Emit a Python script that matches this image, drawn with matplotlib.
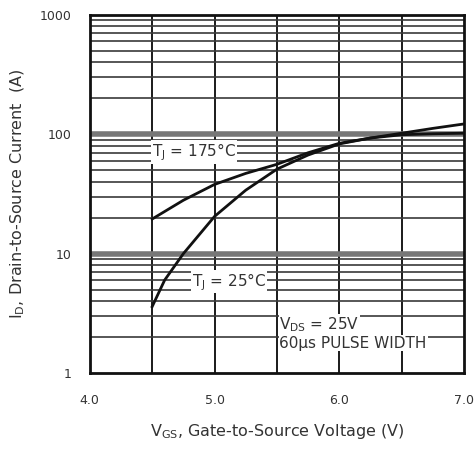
import matplotlib
matplotlib.use("Agg")
import matplotlib.pyplot as plt
from matplotlib.ticker import FixedLocator, NullFormatter

plt.rcParams['font.family'] = ['DejaVu Sans']
plt.rcParams['mathtext.default'] = 'regular'

# Data
vgs_175 = [4.5, 4.75, 5.0, 5.25, 5.5, 5.75, 6.0, 6.25, 6.5, 6.75, 7.0]
id_175 = [19.5, 28, 38, 47, 56, 70, 84, 93, 99, 101, 102]
vgs_25 = [4.5, 4.6, 4.75, 5.0, 5.25, 5.5, 5.75, 6.0, 6.25, 6.5, 6.75, 7.0]
id_25 = [3.6, 6.0, 10.0, 20.5, 34, 51, 67, 83, 93, 102, 112, 122]

x_ticks = [4.0, 5.0, 6.0, 7.0]
x_tick_labels = ["4.0", "5.0", "6.0", "7.0"]
x_grid = [4.5, 5.0, 5.5, 6.0, 6.5]
y_ticks = [1, 10, 100, 1000]
y_tick_labels = ["1", "10", "100", "1000"]

fig = plt.figure(figsize=(4.75, 4.5), dpi=100)
ax = fig.add_axes([0.189, 0.171, 0.788, 0.796])

ax.set_yscale('log')
ax.set_xlim(4.0, 7.0)
ax.set_ylim(1, 1000)

# grid
for xv in x_grid:
    ax.axvline(xv, color='#1a1a1a', lw=1.4, zorder=1)
minor_vals = [m * 10 ** e for e in range(0, 3) for m in range(2, 10)]
for yv in minor_vals:
    ax.axhline(yv, color='#3a3a3a', lw=1.2, zorder=1)
for yv in [10, 100]:
    ax.axhline(yv, color='#777777', lw=4.0, zorder=1)

ax.plot(vgs_175, id_175, color='#111111', lw=2.0, zorder=3)
ax.plot(vgs_25, id_25, color='#111111', lw=2.0, zorder=3)

ax.set_xticks(x_ticks)
ax.set_xticklabels(x_tick_labels)
ax.yaxis.set_major_locator(FixedLocator(y_ticks))
ax.set_yticklabels(y_tick_labels)
ax.yaxis.set_minor_locator(FixedLocator([]))
ax.yaxis.set_minor_formatter(NullFormatter())
ax.tick_params(axis='both', length=0, labelsize=9, colors='#333333')
ax.tick_params(axis='x', pad=15)
ax.tick_params(axis='y', pad=13)

for s in ax.spines.values():
    s.set_linewidth(2.0)
    s.set_color('#111111')
    s.set_zorder(4)

box = dict(facecolor='white', edgecolor='none', pad=0.5)
fs = 11
ax.text(4.5, 71, r"T$_J$ = 175°C", fontsize=fs, color='#333333',
        ha='left', va='center', bbox=box, zorder=2)
ax.text(4.82, 5.8, r"T$_J$ = 25°C", fontsize=fs, color='#333333',
        ha='left', va='center', bbox=box, zorder=2)
ax.text(5.52, 2.55, r"V$_{DS}$ = 25V", fontsize=fs, color='#333333',
        ha='left', va='center', bbox=box, zorder=2)
ax.text(5.52, 1.78, "60µs PULSE WIDTH", fontsize=fs, color='#333333',
        ha='left', va='center', bbox=box, zorder=2)

ax.set_xlabel(r"V$_{GS}$, Gate-to-Source Voltage (V)", fontsize=11.5,
              color='#333333', labelpad=11)
ax.set_ylabel(r"I$_D$, Drain-to-Source Current  (A)", fontsize=11.5,
              color='#333333', labelpad=9)

fig.savefig("out.png", dpi=100)
